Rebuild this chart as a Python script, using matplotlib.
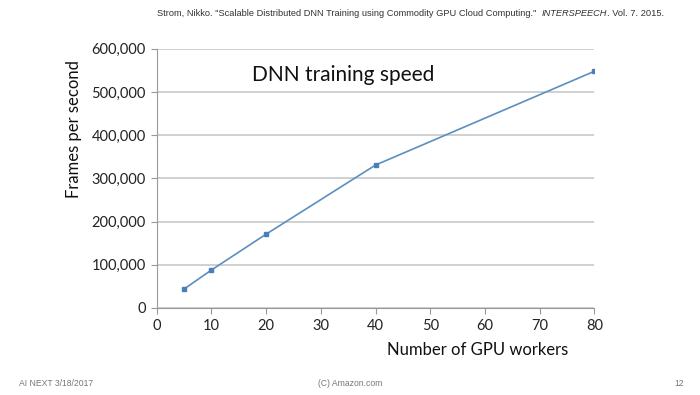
import matplotlib
matplotlib.use("Agg")
import matplotlib.pyplot as plt
from matplotlib.ticker import FuncFormatter

workers = [5, 10, 20, 40, 80]
frames_per_second = [44000, 88000, 171000, 331000, 548000]
x_ticks = [0, 10, 20, 30, 40, 50, 60, 70, 80]
y_ticks = [0, 100000, 200000, 300000, 400000, 500000, 600000]

fig = plt.figure(figsize=(7, 3.95), dpi=100)
fig.patch.set_facecolor("white")
ax = fig.add_axes([0.224, 0.2203, 0.625, 0.656])

ax.plot(workers, frames_per_second, color="#5b8fbf", lw=1.2, marker="s",
        markersize=3.5, markerfacecolor="#4a7ebb", markeredgecolor="#4a7ebb", zorder=3)

ax.set_xlim(0, 80)
ax.set_ylim(0, 600000)
ax.set_xticks(x_ticks)
ax.set_yticks(y_ticks)
ax.yaxis.set_major_formatter(FuncFormatter(lambda v, p: f"{int(v):,}"))

font = "Lato"
for lab in ax.get_xticklabels() + ax.get_yticklabels():
    lab.set_fontfamily(font)
    lab.set_fontsize(10.5)
    lab.set_color("#222222")

ax.grid(axis="y", color="#c8c8c8", lw=1.2)
ax.set_axisbelow(True)
for s in ["top", "right"]:
    ax.spines[s].set_visible(False)
ax.spines["left"].set_color("#999999")
ax.spines["bottom"].set_color("#999999")
ax.tick_params(axis="x", direction="out", length=4, color="#999999", pad=4)
ax.tick_params(axis="y", direction="out", length=4, color="#999999", pad=4)

fig.text(252 / 700, 1 - 75 / 395, "DNN training speed",
         fontfamily=font, fontsize=15, color="#111111", va="center", ha="left")

fig.text(74 / 700, 1 - 129 / 395, "Frames per second", rotation=90,
         fontfamily=font, fontsize=12, color="#111111", ha="center", va="center")
fig.text(478 / 700, 1 - 350 / 395, "Number of GPU workers",
         fontfamily=font, fontsize=12, color="#111111", ha="center", va="center")

# citation line: chain pieces using measured extents
renderer = fig.canvas.get_renderer()
cite_parts = [
    ('Strom, Nikko. "Scalable Distributed DNN Training using Commodity GPU Cloud Computing."  ', "normal"),
    ("INTERSPEECH", "italic"),
    (". Vol. 7. 2015.", "normal"),
]
x_px = 157
for txt, sty in cite_parts:
    t = fig.text(x_px / 700, 1 - 14 / 395, txt, fontfamily="Liberation Sans",
                 fontsize=6.7, style=sty, color="#333333", ha="left", va="center")
    bb = t.get_window_extent(renderer=renderer)
    x_px = bb.x1

fig.text(19 / 700, 1 - 384 / 395, "AI NEXT 3/18/2017", fontfamily="Liberation Sans",
         fontsize=6.2, color="#777777", ha="left", va="center")
fig.text(350 / 700, 1 - 384 / 395, "(C) Amazon.com", fontfamily="Liberation Sans",
         fontsize=6.2, color="#777777", ha="center", va="center")
fig.text(684 / 700, 1 - 384 / 395, "12", fontfamily="Liberation Sans",
         fontsize=6.2, color="#777777", ha="right", va="center")

fig.savefig("out.png", dpi=100)
